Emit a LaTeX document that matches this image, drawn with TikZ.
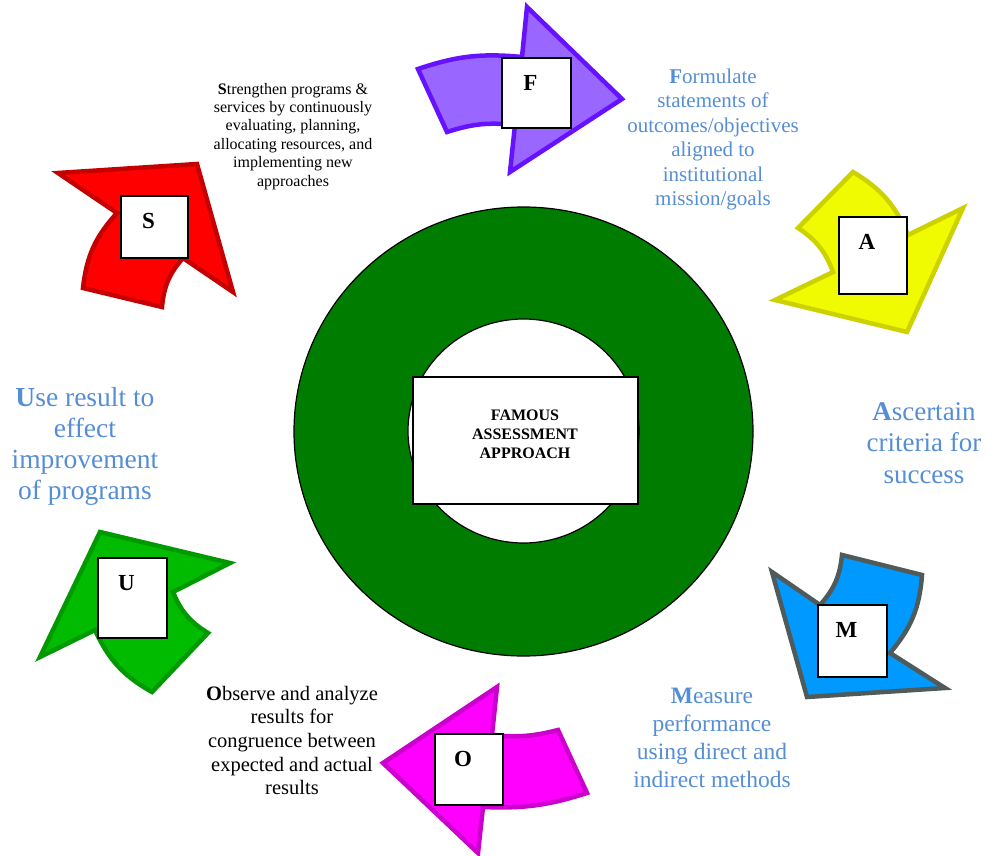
\documentclass[tikz,border=0pt]{standalone}
\usepackage{fontspec}
\setmainfont{Liberation Serif}
\usetikzlibrary{positioning}
\definecolor{StepBlue}{HTML}{558ED5}
\definecolor{RingGreen}{HTML}{007C00}
\definecolor{VioletFill}{HTML}{9966FF}
\definecolor{VioletLine}{HTML}{6611FF}
\definecolor{LemonFill}{HTML}{F0FA00}
\definecolor{LemonLine}{HTML}{CCD200}
\definecolor{SkyFill}{HTML}{0099FF}
\definecolor{SkyLine}{HTML}{4F5B5B}
\definecolor{PinkFill}{HTML}{FF00FF}
\definecolor{PinkLine}{HTML}{CC00CC}
\definecolor{LeafFill}{HTML}{00BB00}
\definecolor{LeafLine}{HTML}{009900}
\definecolor{FireFill}{HTML}{FF0000}
\definecolor{FireLine}{HTML}{C40000}
\newcommand{\txtsize}[2]{\fontsize{#1}{#2}\selectfont}

\begin{document}
\begin{tikzpicture}[x=1pt, y=-1pt,
    curvarrow/.style={line width=4.5pt, line join=miter},
    letterbox/.style={rectangle, draw=black, line width=1.3pt, fill=white, inner sep=0pt},
    letter/.style={inner sep=0pt, font=\txtsize{23}{27}\bfseries},
    goal/.style={text=StepBlue, align=center, inner sep=0pt, anchor=base},
    note/.style={text=black, align=center, inner sep=0pt, anchor=base}
]
  \useasboundingbox (0,0) rectangle (997,856);

  % Ring in the middle
  \draw[fill=RingGreen, line width=1.2pt] (523.5,431.5) ellipse [x radius=229.5, y radius=224.5];
  \draw[fill=white, line width=1.2pt] (523.5,431) ellipse [x radius=115.5, y radius=112];
  \node[letterbox, minimum width=225pt, minimum height=127pt] (core) at (525.5,440.5) {};
  \node[inner sep=0pt, align=center, font=\txtsize{16}{19}\bfseries] (coretxt) at (525,434.3) {FAMOUS\\ASSESSMENT\\APPROACH};

  % Curved arrows
  \draw[curvarrow, fill=VioletFill, draw=VioletLine] (418,69) to[bend left=12] (522,57) -- (527,7) -- (622,99) -- (510,172) -- (515,125) to[bend right=12] (447,132) -- cycle;
  \draw[curvarrow, fill=LemonFill, draw=LemonLine] (798,228) to[bend left=18] (833,272) -- (775,300) -- (907,332) -- (963,208) -- (908,235) to[bend right=18] (853,172) -- cycle;
  \draw[curvarrow, fill=SkyFill, draw=SkyLine] (772,572) -- (820,605) to[bend right=18] (842,555) -- (922,575) to[bend left=18] (890,653) -- (945,688) -- (807,697) -- cycle;
  \draw[curvarrow, fill=PinkFill, draw=PinkLine] (383,763) -- (497,687) -- (492,735) to[bend right=10] (558,730) -- (587,793) to[bend left=10] (483,807) -- (478,853) -- cycle;
  \draw[curvarrow, fill=LeafFill, draw=LeafLine] (40,657) -- (100,532) -- (230,563) -- (173,592) to[bend right=18] (208,633) -- (152,692) to[bend left=18] (95,630) -- cycle;
  \draw[curvarrow, fill=FireFill, draw=FireLine] (58,173) -- (197,164) -- (233,292) -- (183,258) to[bend right=18] (162,307) -- (83,288) to[bend left=18] (117,213) -- cycle;

  % Letter boxes
  \node[letterbox, minimum width=69pt, minimum height=70pt] (boxF) at (536.5,93) {};
  \node[letterbox, minimum width=68pt, minimum height=77pt] (boxA) at (873,255.5) {};
  \node[letterbox, minimum width=69pt, minimum height=72pt] (boxM) at (852.5,641) {};
  \node[letterbox, minimum width=68pt, minimum height=71pt] (boxO) at (469,769.5) {};
  \node[letterbox, minimum width=69pt, minimum height=80pt] (boxU) at (132.5,598) {};
  \node[letterbox, minimum width=67pt, minimum height=62pt] (boxS) at (154.5,227) {};
  \foreach \b in {F,A,M,O,U,S}{
    \node[letter, below=18pt of box\b.north, xshift=-6pt] (l\b) {\b};
  }

  % Step texts (anchored at the last baseline)
  \node[goal, font=\txtsize{21}{24.4}] (tF) at (713,205.5) {\textbf{F}ormulate\\statements of\\outcomes/objectives\\aligned to\\institutional\\mission/goals};
  \node[goal, font=\txtsize{27}{31.7}] (tA) at (924,483.4) {\textbf{A}scertain\\criteria for\\success};
  \node[goal, font=\txtsize{23.5}{28}] (tM) at (712,787) {\textbf{M}easure\\performance\\using direct and\\indirect methods};
  \node[note, font=\txtsize{20.5}{23.7}] (tO) at (292,794.8) {\textbf{O}bserve and analyze\\results for\\congruence between\\expected and actual\\results};
  \begin{scope}
    \clip (0,370) rectangle (180,505);
    \node[goal, font=\txtsize{27.5}{31}] (tU) at (85,499.7) {\textbf{U}se result to\\effect\\improvement\\of programs};
  \end{scope}
  \node[note, font=\txtsize{16}{18.4}] (tS) at (293,186) {\textbf{S}trengthen programs \&\\services by continuously\\evaluating, planning,\\allocating resources, and\\implementing new\\approaches};
\end{tikzpicture}
\end{document}
